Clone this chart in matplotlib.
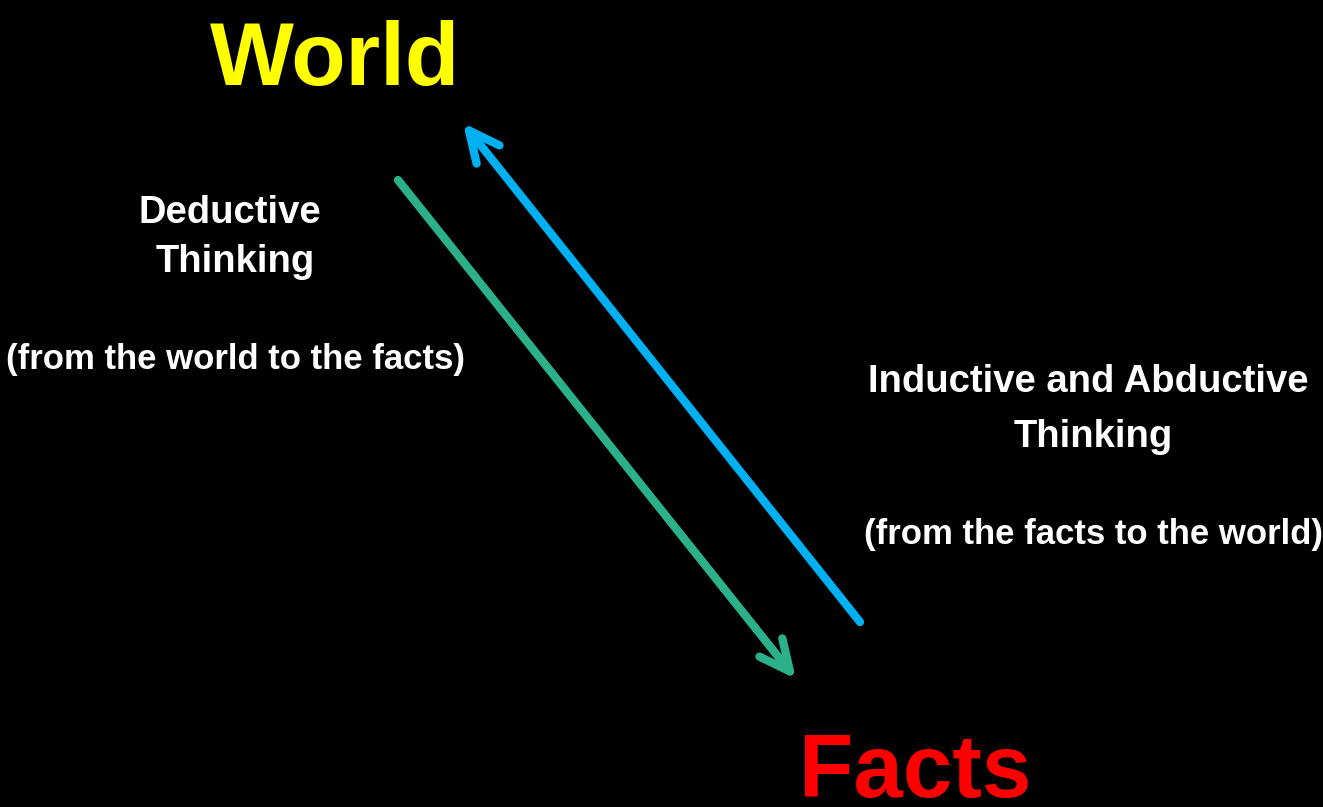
import matplotlib
matplotlib.use("Agg")
import matplotlib.pyplot as plt

# big labels and their baseline anchors (pixel coords of the 1323x807 canvas)
labels = ["World", "Facts"]
label_colors = ["#FFFF00", "#FF0000"]
label_pos = [(335, 85), (915, 797)]

# descriptive lines, one entry per line
desc_lines = ["Deductive", "Thinking", "(from the world to the facts)",
              "Inductive and Abductive", "Thinking", "(from the facts to the world)"]
desc_pos = [(230, 223), (235, 272), (235, 369),
            (1088, 392), (1093, 447), (1093, 544)]
desc_sizes = [27.5, 27.5, 25, 27.5, 27.5, 25]

# arrows: (start, end)
arrow_deductive = ((398, 180), (796, 679))
arrow_inductive = ((860, 622), (463, 123))
arrow_colors = ["#2BB08A", "#00B0F0"]

W, H = 1323, 807
fig = plt.figure(figsize=(W / 100, H / 100), dpi=100)
fig.patch.set_facecolor("black")
ax = fig.add_axes([0, 0, 1, 1])
ax.set_facecolor("black")
ax.set_xlim(0, W)
ax.set_ylim(H, 0)
ax.axis("off")

fam = ["Liberation Sans", "DejaVu Sans"]

for txt, col, (x, y) in zip(labels, label_colors, label_pos):
    ax.text(x, y, txt, color=col, fontsize=64, family=fam, fontweight="bold",
            ha="center", va="baseline")

for txt, (x, y), fs in zip(desc_lines, desc_pos, desc_sizes):
    ax.text(x, y, txt, color="white", fontsize=fs, family=fam, fontweight="bold",
            ha="center", va="baseline")

for (start, end), col in zip([arrow_deductive, arrow_inductive], arrow_colors):
    ax.annotate("", xy=end, xytext=start,
                arrowprops=dict(arrowstyle="->,head_length=2.2,head_width=1.05",
                                color=col, lw=6, capstyle="round",
                                joinstyle="round", shrinkA=0, shrinkB=0))

fig.savefig("out.png", dpi=100, facecolor="black")
